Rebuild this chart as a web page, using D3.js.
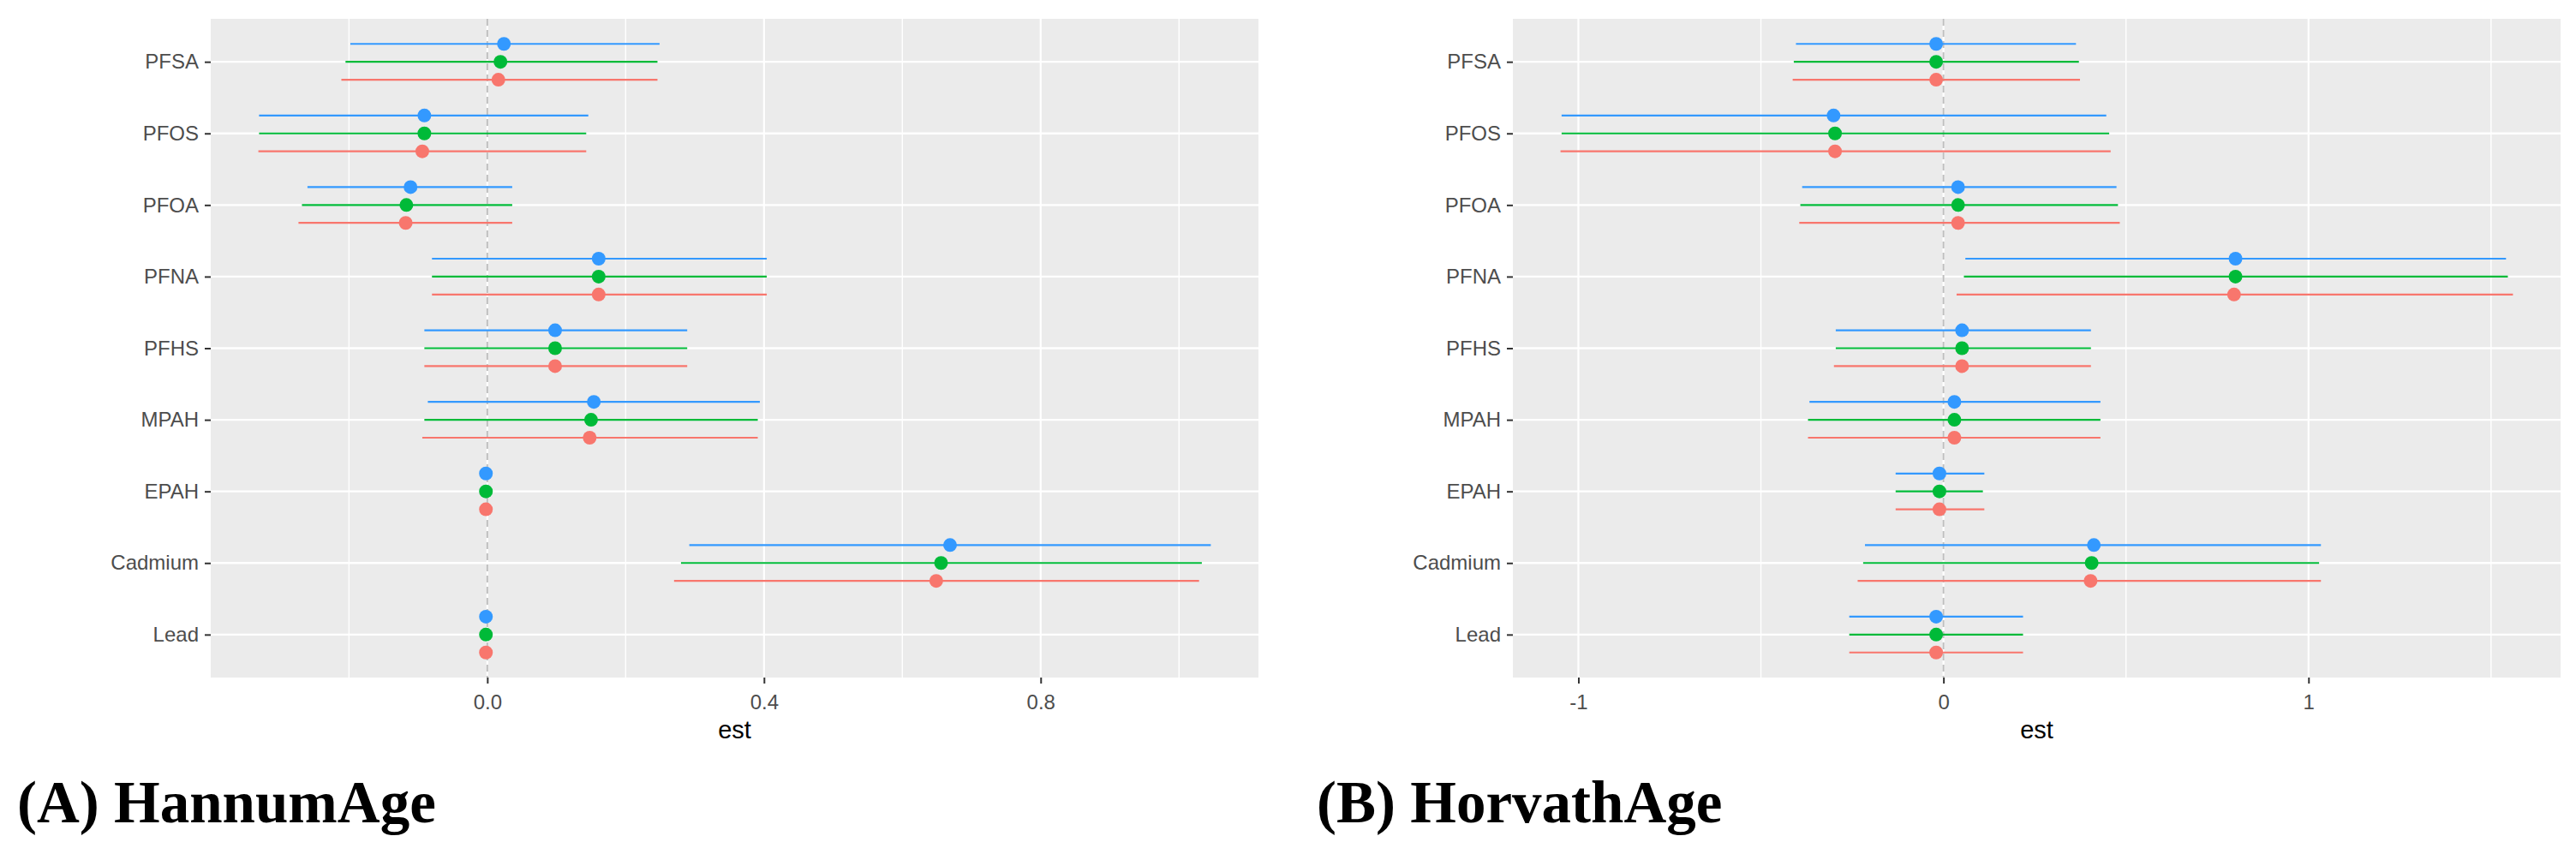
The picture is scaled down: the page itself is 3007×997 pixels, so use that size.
<!DOCTYPE html>
<html>
<head>
<meta charset="utf-8">
<script src="https://cdn.jsdelivr.net/npm/d3@7"></script>
<style>
  body { margin: 0; background: #fff; }
  svg { display: block; }
</style>
</head>
<body>
<div id="chart"></div>
<script>
// exposures, top to bottom
const exposures = ['PFSA', 'PFOS', 'PFOA', 'PFNA', 'PFHS', 'MPAH', 'EPAH', 'Cadmium', 'Lead'];
// three models, drawn top / middle / bottom within each exposure
const modelColors = ['#3399FF', '#00BA38', '#F8766D'];

// (A) HannumAge
const hannumBlueEst  = [0.024, -0.091, -0.111, 0.161, 0.098, 0.154, -0.002, 0.669, -0.002];
const hannumBlueLo   = [-0.198, -0.330, -0.260, -0.080, -0.091, -0.086, -0.004, 0.292, -0.004];
const hannumBlueHi   = [0.249, 0.146, 0.036, 0.404, 0.289, 0.394, 0.000, 1.046, 0.000];
const hannumGreenEst = [0.019, -0.091, -0.117, 0.161, 0.098, 0.150, -0.002, 0.656, -0.002];
const hannumGreenLo  = [-0.205, -0.330, -0.268, -0.080, -0.091, -0.091, -0.004, 0.280, -0.004];
const hannumGreenHi  = [0.246, 0.143, 0.036, 0.404, 0.289, 0.391, 0.000, 1.033, 0.000];
const hannumRedEst   = [0.016, -0.094, -0.118, 0.161, 0.098, 0.148, -0.002, 0.649, -0.002];
const hannumRedLo    = [-0.211, -0.331, -0.273, -0.080, -0.091, -0.094, -0.004, 0.270, -0.004];
const hannumRedHi    = [0.246, 0.143, 0.036, 0.404, 0.289, 0.391, 0.000, 1.029, 0.000];

// (B) HorvathAge
const horvathBlueEst  = [-0.020, -0.301, 0.040, 0.800, 0.051, 0.030, -0.011, 0.412, -0.020];
const horvathBlueLo   = [-0.404, -1.046, -0.387, 0.060, -0.295, -0.367, -0.131, -0.215, -0.258];
const horvathBlueHi   = [0.363, 0.446, 0.474, 1.541, 0.404, 0.430, 0.112, 1.034, 0.218];
const horvathGreenEst = [-0.020, -0.297, 0.040, 0.800, 0.051, 0.030, -0.011, 0.406, -0.020];
const horvathGreenLo  = [-0.410, -1.046, -0.392, 0.056, -0.295, -0.371, -0.131, -0.220, -0.258];
const horvathGreenHi  = [0.371, 0.454, 0.478, 1.546, 0.404, 0.430, 0.108, 1.029, 0.218];
const horvathRedEst   = [-0.020, -0.297, 0.040, 0.796, 0.051, 0.030, -0.011, 0.403, -0.020];
const horvathRedLo    = [-0.413, -1.049, -0.395, 0.036, -0.300, -0.371, -0.131, -0.235, -0.258];
const horvathRedHi    = [0.374, 0.458, 0.483, 1.560, 0.404, 0.430, 0.112, 1.034, 0.218];

const hannumMajor = [0, 0.4, 0.8];
const hannumMinor = [-0.2, 0.2, 0.6, 1.0];
const horvathMajor = [-1, 0, 1];
const horvathMinor = [-0.5, 0.5, 1.5];

const W = 3007, H = 997;
const svg = d3.select('#chart').append('svg')
    .attr('width', W)
    .attr('height', H)
    .style('background', '#fff');

function drawPanel(cfg) {
    const { left, top, width, height, series, major, minor, fmt, title, titleX } = cfg;

    // ggplot-like 5% expansion of the data range
    const all = series.flatMap(s => s.lo.concat(s.hi));
    const [mn, mx] = d3.extent(all);
    const pad = (mx - mn) * 0.05;
    const x = d3.scaleLinear().domain([mn - pad, mx + pad]).range([0, width]);
    const y = d3.scalePoint().domain(exposures).range([0, height]).padding(0.6);
    const step = y.step();

    const g = svg.append('g').attr('transform', `translate(${left},${top})`);

    g.append('rect')
        .attr('width', width)
        .attr('height', height)
        .attr('fill', '#EBEBEB');

    g.append('g').selectAll('line').data(minor).join('line')
        .attr('x1', d => x(d)).attr('x2', d => x(d))
        .attr('y1', 0).attr('y2', height)
        .attr('stroke', '#fff').attr('stroke-width', 1.4);

    g.append('g').selectAll('line').data(major).join('line')
        .attr('x1', d => x(d)).attr('x2', d => x(d))
        .attr('y1', 0).attr('y2', height)
        .attr('stroke', '#fff').attr('stroke-width', 2.2);

    g.append('g').selectAll('line').data(exposures).join('line')
        .attr('x1', 0).attr('x2', width)
        .attr('y1', d => y(d)).attr('y2', d => y(d))
        .attr('stroke', '#fff').attr('stroke-width', 2.4);

    // reference line at zero
    g.append('line')
        .attr('x1', x(0)).attr('x2', x(0))
        .attr('y1', 0).attr('y2', height)
        .attr('stroke', '#BEBEBE')
        .attr('stroke-width', 2)
        .attr('stroke-dasharray', '8,5');

    series.forEach((s, i) => {
        const dy = (i - 1) * step * 0.25;
        const sg = g.append('g');
        sg.selectAll('line').data(exposures).join('line')
            .attr('x1', (d, j) => x(s.lo[j]))
            .attr('x2', (d, j) => x(s.hi[j]))
            .attr('y1', d => y(d) + dy)
            .attr('y2', d => y(d) + dy)
            .attr('stroke', s.color)
            .attr('stroke-width', 2.2);
        sg.selectAll('circle').data(exposures).join('circle')
            .attr('cx', (d, j) => x(s.est[j]))
            .attr('cy', d => y(d) + dy)
            .attr('r', 8)
            .attr('fill', s.color);
    });

    const yAxis = g.append('g')
        .call(d3.axisLeft(y).tickSize(7).tickPadding(7));
    const xAxis = g.append('g')
        .attr('transform', `translate(0,${height})`)
        .call(d3.axisBottom(x).tickValues(major).tickFormat(fmt).tickSize(7).tickPadding(13));

    [yAxis, xAxis].forEach(a => {
        a.select('.domain').remove();
        a.selectAll('.tick line').attr('stroke', '#333').attr('stroke-width', 2);
        a.selectAll('.tick text')
            .attr('fill', '#4D4D4D')
            .style('font-family', '"Liberation Sans", Arial, sans-serif')
            .style('font-size', '24px');
    });

    svg.append('text')
        .attr('x', left + width / 2)
        .attr('y', 862)
        .attr('text-anchor', 'middle')
        .style('font-family', '"Liberation Sans", Arial, sans-serif')
        .style('font-size', '29px')
        .attr('fill', '#000')
        .text('est');

    svg.append('text')
        .attr('x', titleX)
        .attr('y', 960)
        .style('font-family', '"Liberation Serif", "Times New Roman", serif')
        .style('font-weight', 'bold')
        .style('font-size', '69px')
        .attr('fill', '#000')
        .text(title);
}

drawPanel({
    left: 246, top: 22, width: 1223, height: 769,
    series: [
        { color: modelColors[0], est: hannumBlueEst, lo: hannumBlueLo, hi: hannumBlueHi },
        { color: modelColors[1], est: hannumGreenEst, lo: hannumGreenLo, hi: hannumGreenHi },
        { color: modelColors[2], est: hannumRedEst, lo: hannumRedLo, hi: hannumRedHi }
    ],
    major: hannumMajor, minor: hannumMinor,
    fmt: d3.format('.1f'),
    title: '(A) HannumAge', titleX: 20
});

drawPanel({
    left: 1766, top: 22, width: 1223, height: 769,
    series: [
        { color: modelColors[0], est: horvathBlueEst, lo: horvathBlueLo, hi: horvathBlueHi },
        { color: modelColors[1], est: horvathGreenEst, lo: horvathGreenLo, hi: horvathGreenHi },
        { color: modelColors[2], est: horvathRedEst, lo: horvathRedLo, hi: horvathRedHi }
    ],
    major: horvathMajor, minor: horvathMinor,
    fmt: d => String(d),
    title: '(B) HorvathAge', titleX: 1537
});
</script>
</body>
</html>
